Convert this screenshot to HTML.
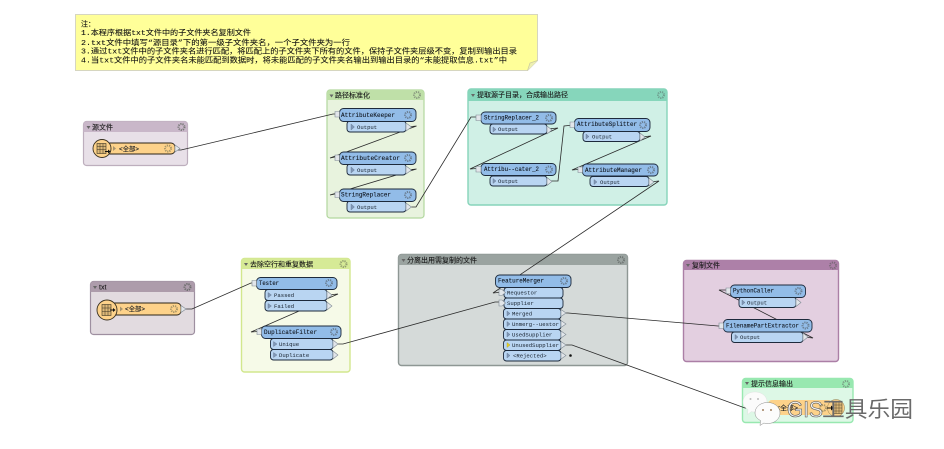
<!DOCTYPE html>
<html><head><meta charset="utf-8"><style>
html,body{margin:0;padding:0;background:#fff}
svg{display:block;filter:blur(.3px)}
text{font-family:"Liberation Mono","Noto Sans CJK SC",monospace;fill:#111;font-size:6px}
.t{font-size:6.5px;fill:#10161f;stroke:#10161f;stroke-width:.12}
.p{font-size:5.6px;fill:#16202c}
.h{font-size:7px;font-family:"Liberation Sans","Noto Sans CJK SC",sans-serif;fill:#1a1a1a;stroke:#1a1a1a;stroke-width:.12}
.n{font-size:7.4px;font-family:"Liberation Mono","Noto Sans CJK SC",monospace;fill:#111;stroke:#111;stroke-width:.08}
.c{fill:none;stroke:#2a2a2a;stroke-width:.8}
.tb{fill:#92bce8;stroke:#1d2a3c;stroke-width:.9}
.pb{fill:#b9d5f2;stroke:#1d2a3c;stroke-width:.9}
.g{fill:none;stroke:#6a7f94;stroke-width:2;stroke-dasharray:1.2 .9}
.ti{fill:#7f97b8;stroke:#64748a;stroke-width:.4}
.to{fill:#e2e6ea;stroke:#7f8a94;stroke-width:.6}
.tv{fill:#666}
</style></head><body>
<svg width="944" height="449" viewBox="0 0 944 449" xmlns="http://www.w3.org/2000/svg">
<rect width="944" height="449" fill="#fff"/>

<!-- note -->
<path d="M75.5 14.5H537.5V60.5L527.5 70.5H75.500Z" fill="#ffff99" stroke="#d6d6c0"/>
<path d="M527.5 70.5L530 63L537.5 60.5" fill="#eef0b0" stroke="#c9c9a0" stroke-width=".7"/>
<text class="n" x="81" y="26.500" textLength="14" lengthAdjust="spacingAndGlyphs">注：</text>
<text class="n" x="81" y="35" textLength="170" lengthAdjust="spacingAndGlyphs">1.本程序根据txt文件中的子文件夹名复制文件</text>
<text class="n" x="81" y="45" textLength="269" lengthAdjust="spacingAndGlyphs">2.txt文件中填写“源目录”下的第一级子文件夹名，一个子文件夹为一行</text>
<text class="n" x="81" y="53.500" textLength="436" lengthAdjust="spacingAndGlyphs">3.通过txt文件中的子文件夹名进行匹配，将匹配上的子文件夹下所有的文件，保持子文件夹层级不变，复制到输出目录</text>
<text class="n" x="81" y="62.500" textLength="426" lengthAdjust="spacingAndGlyphs">4.当txt文件中的子文件夹名未能匹配到数据时，将未能匹配的子文件夹名输出到输出目录的“未能提取信息.txt”中</text>

<!-- groups -->
<g>
<rect x="83.500" y="121.500" width="104" height="44" rx="3" fill="#e8e0e8" stroke="#bdaebd" stroke-width="1.2"/>
<path d="M83.500 132V124.500a3 3 0 0 1 3-3H184.500a3 3 0 0 1 3 3V132Z" fill="#c9b7c9"/>
<path d="M86.500 126l4 0l-2 3z" class="tv"/><text class="h" x="92" y="129.500">源文件</text>
<circle cx="181.500" cy="127" r="3" class="g" style="stroke:#7a7a7a"/>

<rect x="90.500" y="281.500" width="104" height="53" rx="3" fill="#e2dbe0" stroke="#9e8fa0" stroke-width="1.200"/>
<path d="M90.500 292V284.500a3 3 0 0 1 3-3H191.500a3 3 0 0 1 3 3V292Z" fill="#ad9cab"/>
<path d="M93 286l4 0l-2 3z" class="tv"/><text class="h" x="99" y="289.500">txt</text>
<circle cx="187.500" cy="287" r="3" class="g" style="stroke:#6e6e6e"/>

<rect x="327" y="90" width="97" height="128" rx="3" fill="#e8f3de" stroke="#b2d79e" stroke-width="1.200"/>
<path d="M327 100V93a3 3 0 0 1 3-3H421a3 3 0 0 1 3 3V100Z" fill="#bfe0a8"/>
<path d="M329.500 94.500l4 0l-2 3z" class="tv"/><text class="h" x="335" y="97.500">路径标准化</text>
<circle cx="417" cy="95" r="3" class="g" style="stroke:#8a9a80"/>

<rect x="468" y="89" width="199" height="116" rx="3" fill="#d0f0e6" stroke="#86d4ba" stroke-width="1.400"/>
<path d="M468 101V92a3 3 0 0 1 3-3H664a3 3 0 0 1 3 3V101Z" fill="#86d6bb"/>
<path d="M471 94l4 0l-2 3z" class="tv"/><text class="h" x="477" y="97">提取源子目录，合成输出路径</text>
<circle cx="661" cy="95" r="3" class="g" style="stroke:#6f9f90"/>

<rect x="241.500" y="258.500" width="108.500" height="113.500" rx="3" fill="#f6fae8" stroke="#d2e78e" stroke-width="1.400"/>
<path d="M241.500 269V261.500a3 3 0 0 1 3-3H347a3 3 0 0 1 3 3V269Z" fill="#d6ea96"/>
<path d="M244 263l4 0l-2 3z" class="tv"/><text class="h" x="250" y="266.500">去除空行和重复数据</text>
<circle cx="343.500" cy="264" r="3" class="g" style="stroke:#94a070"/>

<rect x="398.500" y="254.500" width="229" height="111" rx="3" fill="#d5dad9" stroke="#8e9794" stroke-width="1.400"/>
<path d="M398.500 265V257.500a3 3 0 0 1 3-3H624.500a3 3 0 0 1 3 3V265Z" fill="#9aa3a0"/>
<path d="M401.500 259l4 0l-2 3z" class="tv"/><text class="h" x="407" y="262.500">分离出用需复制的文件</text>
<circle cx="621" cy="260" r="3" class="g" style="stroke:#6f7674"/>

<rect x="683.500" y="260.500" width="155" height="101" rx="3" fill="#e3cfe0" stroke="#ab7fa6" stroke-width="1.400"/>
<path d="M683.500 270V263.500a3 3 0 0 1 3-3H835.500a3 3 0 0 1 3 3V270Z" fill="#ad80a8"/>
<path d="M686 264l4 0l-2 3z" class="tv"/><text class="h" x="692" y="267.500">复制文件</text>
<circle cx="833" cy="265.500" r="3" class="g" style="stroke:#7e6a7c"/>

<rect x="742.500" y="378.500" width="110.500" height="44" rx="3" fill="#ddf8e6" stroke="#98e8b0" stroke-width="1.400"/>
<path d="M742.500 388V381.500a3 3 0 0 1 3-3H850a3 3 0 0 1 3 3V388Z" fill="#98e8b0"/>
<path d="M745 382l4 0l-2 3z" class="tv"/><text class="h" x="751" y="386">提示信息输出</text>
<circle cx="846" cy="384" r="3" class="g" style="stroke:#7a9f86"/>
</g>

<!-- connectors -->
<g class="c">
<path d="M176 150H181L333 114H339"/>
<path d="M407 127L416.500 126L330 158L335 157H340"/>
<path d="M407 170L416.500 169L330 195L335 194H340"/>
<path d="M407 207H416L471 117H481"/>
<path d="M547 129L558 128L470 169L477 168.500H481"/>
<path d="M547 181H558L564 126L574 125"/>
<path d="M640 137L651 136L572 170L578 169.500H582"/>
<path d="M649 182L659 181L493 293L503 292"/>
<path d="M182 309H192L251 283H256"/>
<path d="M327 295L338 294L251 332L258 331.500H261"/>
<path d="M333 344H343L495 302H503"/>
<path d="M562 313H568L718 326H723"/>
<path d="M562 345H572L745 408H752"/>
<path d="M803 337L813 338L719 290H730"/>
</g>

<!-- readers -->
<g>
<rect x="102" y="143" width="73" height="11" rx="4" fill="#fdd28a" stroke="#2a2418" stroke-width=".9"/>
<circle cx="102" cy="148.500" r="9" fill="#fdd28a" stroke="#3a3222" stroke-width=".9"/>
<rect x="97" y="143.500" width="9" height="10" fill="#dcb878" stroke="#3a3222" stroke-width=".6"/>
<path d="M97 146.500H106M97 149.500H106M100 143.500V153.500M103 143.500V153.500" stroke="#3a3222" stroke-width=".5"/>
<path d="M105 151h3v-1.500l2.500 2l-2.500 2v-1.500h-3z" fill="#111"/>
<path d="M113 146l3 2.500l-3 2.500z" fill="#a8946c"/>
<text class="t" x="119" y="151" textLength="20" lengthAdjust="spacingAndGlyphs">&lt;全部&gt;</text>
<circle cx="168" cy="148.500" r="3" class="g" style="stroke:#a89668"/>
<path d="M175 145l5 3.500l-5 3.500z" class="to"/>

<rect x="107" y="303" width="74" height="12" rx="4" fill="#fdd28a" stroke="#2a2418" stroke-width=".9"/>
<circle cx="107" cy="310" r="10" fill="#fdd28a" stroke="#3a3222" stroke-width=".9"/>
<rect x="102" y="304.500" width="9" height="11" fill="#dcb878" stroke="#3a3222" stroke-width=".6"/>
<path d="M102 308H111M102 311.500H111M105 304.500V315.500M108 304.500V315.500" stroke="#3a3222" stroke-width=".5"/>
<path d="M110 309.500h3v-1.500l2.500 2l-2.500 2v-1.500h-3z" fill="#111"/>
<path d="M120 306.500l3 2.500l-3 2.500z" fill="#a8946c"/>
<text class="t" x="125" y="311" textLength="20" lengthAdjust="spacingAndGlyphs">&lt;全部&gt;</text>
<circle cx="174" cy="309" r="3" class="g" style="stroke:#a89668"/>
<path d="M181 305.500l5 3.500l-5 3.500z" class="to"/>

<rect x="768" y="400" width="64" height="15" rx="4" fill="#fdd28a"/>
<circle cx="836" cy="408" r="8.500" fill="#fdd28a" stroke="#8a7a50" stroke-width=".5"/>
<text class="t" x="776" y="410" textLength="22" lengthAdjust="spacingAndGlyphs">&lt;全部&gt;</text>
<circle cx="823" cy="408" r="3" class="g" style="stroke:#a89668"/>
<rect x="833" y="401.500" width="9" height="12" fill="#dcb878" stroke="#3a3222" stroke-width=".5"/>
<path d="M833 405H842M833 408H842M833 411H842M836 401.500V413.500M839 401.500V413.500" stroke="#3a3222" stroke-width=".4"/>
<path d="M827 407.500h4v-2l3 2.500l-3 2.500v-2h-4z" fill="#111"/>
</g>

<!-- transformers -->
<g>
<!-- AttributeKeeper -->
<rect x="347" y="121" width="59" height="11" rx="3" class="pb"/>
<rect x="339.500" y="108.500" width="76.500" height="13" rx="4" class="tb"/>
<path d="M335 111.500h4.500v5.500h-4.500z" class="to"/>
<text class="t" x="341" y="117" textLength="54" lengthAdjust="spacingAndGlyphs">AttributeKeeper</text>
<circle cx="408" cy="115" r="3" class="g"/>
<path d="M351 124l3.500 3l-3.500 3z" class="ti"/><text class="p" x="357" y="129">Output</text>
<path d="M406 123l5.500 4l-5.500 4z" class="to"/>
<!-- AttributeCreator -->
<rect x="347" y="164" width="59" height="11" rx="3" class="pb"/>
<rect x="339.500" y="152" width="76.500" height="12.500" rx="4" class="tb"/>
<path d="M335 155h4.500v5.500h-4.500z" class="to"/>
<text class="t" x="341" y="160" textLength="59" lengthAdjust="spacingAndGlyphs">AttributeCreator</text>
<circle cx="408" cy="158" r="3" class="g"/>
<path d="M351 167l3.500 3l-3.500 3z" class="ti"/><text class="p" x="357" y="172">Output</text>
<path d="M406 166l5.500 4l-5.500 4z" class="to"/>
<!-- StringReplacer -->
<rect x="347" y="201" width="59" height="11" rx="3" class="pb"/>
<rect x="339.500" y="189" width="76.500" height="12.500" rx="4" class="tb"/>
<path d="M335 192h4.500v5.500h-4.500z" class="to"/>
<text class="t" x="341" y="196.500" textLength="50" lengthAdjust="spacingAndGlyphs">StringReplacer</text>
<circle cx="408" cy="195" r="3" class="g"/>
<path d="M351 204l3.500 3l-3.500 3z" class="ti"/><text class="p" x="357" y="209">Output</text>
<path d="M406 203l5.500 4l-5.500 4z" class="to"/>

<!-- StringReplacer_2 -->
<rect x="490" y="124" width="57" height="10" rx="3" class="pb"/>
<rect x="481" y="112" width="75" height="12" rx="4" class="tb"/>
<path d="M476 115h5v5.500h-5z" class="to"/>
<text class="t" x="484" y="119.500" textLength="55" lengthAdjust="spacingAndGlyphs">StringReplacer_2</text>
<circle cx="549" cy="118" r="3" class="g"/>
<path d="M493 127l3 2.500l-3 2.500z" class="ti"/><text class="p" x="498" y="131">Output</text>
<path d="M547 126l5 4l-5 4z" class="to"/>
<!-- Attribu...cater_2 -->
<rect x="490" y="176" width="57" height="10" rx="3" class="pb"/>
<rect x="481" y="163.500" width="75" height="12" rx="4" class="tb"/>
<path d="M476 166.500h5v5.500h-5z" class="to"/>
<text class="t" x="484" y="171" textLength="55" lengthAdjust="spacingAndGlyphs">Attribu--cater_2</text>
<circle cx="549" cy="169.500" r="3" class="g"/>
<path d="M493 178.500l3 2.500l-3 2.500z" class="ti"/><text class="p" x="498" y="183">Output</text>
<path d="M547 177.500l5 4l-5 4z" class="to"/>
<!-- AttributeSplitter -->
<rect x="583" y="131.500" width="57" height="10" rx="3" class="pb"/>
<rect x="574.500" y="118.500" width="75.500" height="13" rx="4" class="tb"/>
<path d="M570 122h4.500v5.500h-4.500z" class="to"/>
<text class="t" x="577" y="126" textLength="60" lengthAdjust="spacingAndGlyphs">AttributeSplitter</text>
<circle cx="643" cy="125" r="3" class="g"/>
<path d="M586 134l3 2.500l-3 2.500z" class="ti"/><text class="p" x="592" y="138.500">Output</text>
<path d="M640 133l5 4l-5 4z" class="to"/>
<!-- AttributeManager -->
<rect x="590" y="176.500" width="59" height="10" rx="3" class="pb"/>
<rect x="582.500" y="164" width="75.500" height="12" rx="4" class="tb"/>
<path d="M578 167h4.500v5.500h-4.500z" class="to"/>
<text class="t" x="585" y="172" textLength="57" lengthAdjust="spacingAndGlyphs">AttributeManager</text>
<circle cx="651" cy="170" r="3" class="g"/>
<path d="M594 179.500l3 2.500l-3 2.500z" class="ti"/><text class="p" x="600" y="184">Output</text>
<path d="M649 178l5 4l-5 4z" class="to"/>

<!-- Tester -->
<rect x="265" y="300.500" width="62" height="10.500" rx="3" class="pb"/>
<rect x="265" y="289.500" width="62" height="11" rx="3" class="pb"/>
<rect x="256.500" y="277.500" width="80.500" height="12" rx="4" class="tb"/>
<path d="M252 280.500h4.500v5.500h-4.500z" class="to"/>
<text class="t" x="259" y="285" textLength="20" lengthAdjust="spacingAndGlyphs">Tester</text>
<circle cx="329" cy="283" r="3" class="g"/>
<path d="M268 292.500l3.500 2.500l-3.500 2.500z" class="ti"/><text class="p" x="274" y="297">Passed</text>
<path d="M268 303.500l3.500 2.500l-3.500 2.500z" class="ti"/><text class="p" x="274" y="308">Failed</text>
<path d="M327 291l5 4l-5 4z" class="to"/><path d="M327 302l5 4l-5 4z" class="to"/>
<!-- DuplicateFilter -->
<rect x="270.500" y="349.500" width="62.500" height="10.500" rx="3" class="pb"/>
<rect x="270.500" y="338.500" width="62.500" height="11" rx="3" class="pb"/>
<rect x="261.500" y="326" width="79.500" height="12.500" rx="4" class="tb"/>
<path d="M257 329h4.500v5.500h-4.500z" class="to"/>
<text class="t" x="264" y="334" textLength="53" lengthAdjust="spacingAndGlyphs">DuplicateFilter</text>
<circle cx="334" cy="332" r="3" class="g"/>
<path d="M273.500 341.500l3.500 2.500l-3.500 2.500z" class="ti"/><text class="p" x="279" y="346">Unique</text>
<path d="M273.500 352.500l3.500 2.500l-3.500 2.500z" class="ti"/><text class="p" x="279" y="357">Duplicate</text>
<path d="M333 340l5 4l-5 4z" class="to"/><path d="M333 351l5 4l-5 4z" class="to"/>

<!-- FeatureMerger -->
<rect x="504" y="298" width="59" height="10.500" rx="3" class="pb"/>
<rect x="504" y="287.500" width="59" height="10.500" rx="3" class="pb"/>
<rect x="495.500" y="275" width="75.500" height="12.500" rx="4" class="tb"/>
<text class="t" x="498" y="282.500" textLength="46" lengthAdjust="spacingAndGlyphs">FeatureMerger</text>
<circle cx="564" cy="281" r="3" class="g"/>
<path d="M499 289.500h3l3.500 3l-3.500 3h-3z" class="to"/><path d="M499 300h3l3.500 3l-3.500 3h-3z" class="to"/>
<text class="p" x="507" y="294.500">Requestor</text><text class="p" x="507" y="305">Supplier</text>
<rect x="503.500" y="308.500" width="57.500" height="10.500" rx="3" class="pb"/>
<rect x="503.500" y="319" width="57.500" height="10.500" rx="3" class="pb"/>
<rect x="503.500" y="329.500" width="57.500" height="10.500" rx="3" class="pb"/>
<rect x="503.500" y="340" width="57.500" height="10.500" rx="3" class="pb"/>
<rect x="503.500" y="350.500" width="57.500" height="10.500" rx="3" class="pb"/>
<path d="M507 311l3 2.500l-3 2.500z" class="ti"/><text class="p" x="512" y="315.500">Merged</text>
<path d="M507 321.500l3 2.500l-3 2.500z" class="ti"/><text class="p" x="512" y="326">Unmerg--uestor</text>
<path d="M507 332l3 2.500l-3 2.500z" class="ti"/><text class="p" x="512" y="336.500">UsedSupplier</text>
<path d="M507 342.500l3 2.500l-3 2.500z" fill="#e8d020" stroke="#a89a30" stroke-width=".4"/><text class="p" x="512" y="347">UnusedSupplier</text>
<path d="M507 353l3 2.500l-3 2.500z" class="ti"/><text class="p" x="513" y="357.500">&lt;Rejected&gt;</text>
<path d="M561 309.500l5 3.500l-5 3.500z" class="to"/><path d="M561 320.500l5 3.500l-5 3.500z" class="to"/>
<path d="M561 331l5 3.500l-5 3.500z" class="to"/><path d="M561 341.500l5 3.500l-5 3.500z" class="to"/>
<path d="M561 352l5 3.500l-5 3.500z" class="to"/><circle cx="570.500" cy="355.500" r="1.300" fill="#111"/>

<!-- PythonCaller -->
<rect x="739" y="297" width="57" height="10.500" rx="3" class="pb"/>
<rect x="730.500" y="285" width="75" height="12.500" rx="4" class="tb"/>
<path d="M726 288h4.500v5.500h-4.500z" class="to"/>
<text class="t" x="733" y="292.500" textLength="41" lengthAdjust="spacingAndGlyphs">PythonCaller</text>
<circle cx="798.500" cy="291" r="3" class="g"/>
<path d="M742 300l3 2.500l-3 2.500z" class="ti"/><text class="p" x="747" y="304.500">Output</text>
<path d="M796 298.500l5 4l-5 4z" class="to"/>
<!-- FilenamePartExtractor -->
<rect x="731.500" y="332" width="71.500" height="10.500" rx="3" class="pb"/>
<rect x="723.500" y="319.500" width="88.500" height="12.500" rx="4" class="tb"/>
<path d="M719 323h4.500v5.500h-4.500z" class="to"/>
<text class="t" x="726" y="327.500" textLength="73" lengthAdjust="spacingAndGlyphs">FilenamePartExtractor</text>
<circle cx="805.500" cy="325.500" r="3" class="g"/>
<path d="M735 334.500l3 2.500l-3 2.500z" class="ti"/><text class="p" x="740" y="339">Output</text>
<path d="M803 333l5 4l-5 4z" class="to"/>
</g>

<!-- watermark -->
<g>
<path d="M743 402c0-6 5.500-10 12-10c6.500 0 12 4 12 10c0 6-5.500 10-12 10c-1.500 0-2.500 0-3.500-.5l-4 3l.5-5c-3-2-5-4-5-7.500z" fill="#fbfbfb" stroke="#ddd" stroke-width=".4"/>
<path d="M755 413c0-6 5.500-10.500 12.500-10.500c7 0 12.500 4.500 12.500 10.500c0 6-5.500 10.500-12.500 10.500c-1.500 0-2.500 0-3.500-.5l-4 2.500l.5-5c-3-1.500-5.500-4-5.500-7.500z" fill="#fcfcfc" stroke="#888" stroke-width=".5"/>
<circle cx="750.500" cy="399" r="1" fill="#bbb"/><circle cx="758" cy="399" r="1" fill="#bbb"/>
<circle cx="763" cy="410" r="1" fill="#a08060"/><circle cx="771" cy="410" r="1" fill="#a08060"/>
<text x="787" y="417" textLength="36" lengthAdjust="spacingAndGlyphs" style="font-family:'Liberation Sans',sans-serif;font-size:22px;fill:#f2f2f2;stroke:#555;stroke-width:.6">GIS</text>
<text x="822" y="417" textLength="91" lengthAdjust="spacingAndGlyphs" style="font-family:'Liberation Sans','Noto Sans CJK SC',sans-serif;font-size:22px;fill:#6a6a6a">工具乐园</text>
</g>
</svg>
</body></html>
